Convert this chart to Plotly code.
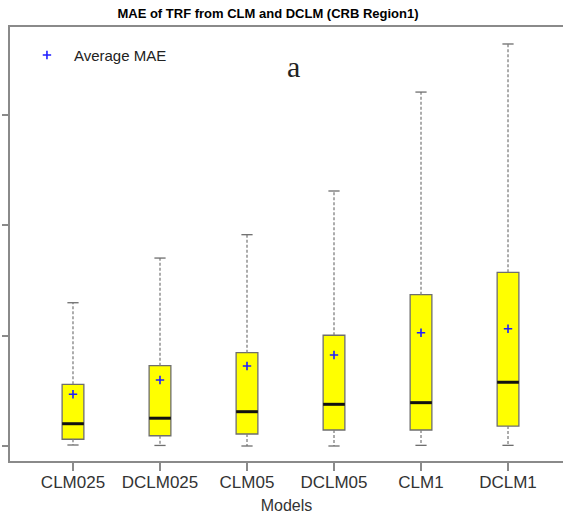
import plotly.graph_objects as go

categories = ["CLM025", "DCLM025", "CLM05", "DCLM05", "CLM1", "DCLM1"]
upper = [1.299, 1.704, 1.916, 2.312, 3.209, 3.645]
q3 = [0.559, 0.728, 0.846, 1.004, 1.372, 1.575]
mean_mae = [0.469, 0.598, 0.725, 0.825, 1.027, 1.063]
median = [0.202, 0.252, 0.311, 0.378, 0.393, 0.578]
q1 = [0.061, 0.093, 0.109, 0.145, 0.145, 0.181]
lower = [0.009, 0.005, 0.0, 0.0, 0.006, 0.006]
ytick_vals = [0, 1, 2, 3]

GRAY = "#6e6e6e"
fig = go.Figure()

# dashed whiskers
wx, wy = [], []
for c, a, b, c1, d in zip(categories, q3, upper, q1, lower):
    wx += [c, c, None, c, c, None]
    wy += [a, b, None, c1, d, None]
fig.add_trace(go.Scatter(x=wx, y=wy, mode="lines", showlegend=False,
                         line=dict(color="#808080", width=1.3, dash="3px,2px"),
                         hoverinfo="skip"))
# whisker caps
fig.add_trace(go.Scatter(x=categories + categories, y=upper + lower, mode="markers",
                         showlegend=False, hoverinfo="skip",
                         marker=dict(symbol="line-ew", size=8,
                                     line=dict(color=GRAY, width=1.3))))
# boxes
fig.add_trace(go.Box(x=categories, q1=q1, median=median, q3=q3,
                     lowerfence=q1, upperfence=q3, width=0.25,
                     fillcolor="#ffff00", line=dict(color=GRAY, width=1.3),
                     boxpoints=False, showlegend=False, hoverinfo="skip"))
# medians
fig.add_trace(go.Scatter(x=categories, y=median, mode="markers", showlegend=False,
                         hoverinfo="skip",
                         marker=dict(symbol="line-ew", size=15.5,
                                     line=dict(color="#111111", width=3))))
# means
fig.add_trace(go.Scatter(x=categories, y=mean_mae, mode="markers", name="Average MAE",
                         marker=dict(symbol="cross-thin", size=6,
                                     line=dict(color="#1f1fff", width=1.6))))

fig.add_annotation(text="a", x=(293 - 10) / 553, y=(461 - 66) / 434,
                   xref="paper", yref="paper", showarrow=False,
                   xanchor="center", yanchor="middle",
                   font=dict(family="Liberation Serif", size=30, color="#222222"))

fig.update_layout(
    width=563, height=514,
    margin=dict(l=10, r=0, t=27, b=53, autoexpand=False),
    paper_bgcolor="white", plot_bgcolor="white",
    font=dict(family="Liberation Sans, Arial", color="#333333"),
    title=dict(text="<b>MAE of TRF from CLM and DCLM (CRB Region1)</b>",
               x=268 / 563, xanchor="center", xref="container",
               y=1 - 13 / 514, yanchor="middle", yref="container",
               font=dict(size=13, color="black")),
    legend=dict(x=0.018, y=0.973, xanchor="left", yanchor="top",
                itemwidth=44, bgcolor="rgba(0,0,0,0)",
                font=dict(size=15, color="#222222")),
    showlegend=True,
    xaxis=dict(type="category", categoryorder="array", categoryarray=categories,
               range=[-0.724, 5.632], automargin=False,
               showline=True, mirror=True, linecolor="#8a8a8a", linewidth=1.5,
               ticks="outside", ticklen=8, tickcolor="#8a8a8a", tickwidth=1.5,
               ticklabelstandoff=-3,
               tickfont=dict(size=17, color="#333333"), showgrid=False,
               title=dict(text="Models", font=dict(size=16, color="#333333"))),
    yaxis=dict(range=[-0.136, 3.799], tickvals=ytick_vals, showticklabels=False,
               automargin=False,
               showline=True, linecolor="#8a8a8a", linewidth=1.5,
               ticks="outside", ticklen=6, tickcolor="#8a8a8a", tickwidth=1.5,
               showgrid=False, zeroline=False),
)

fig.write_html("out.html", config={"displayModeBar": False},
               post_script="document.body.style.margin='0';document.body.style.overflow='hidden';")
